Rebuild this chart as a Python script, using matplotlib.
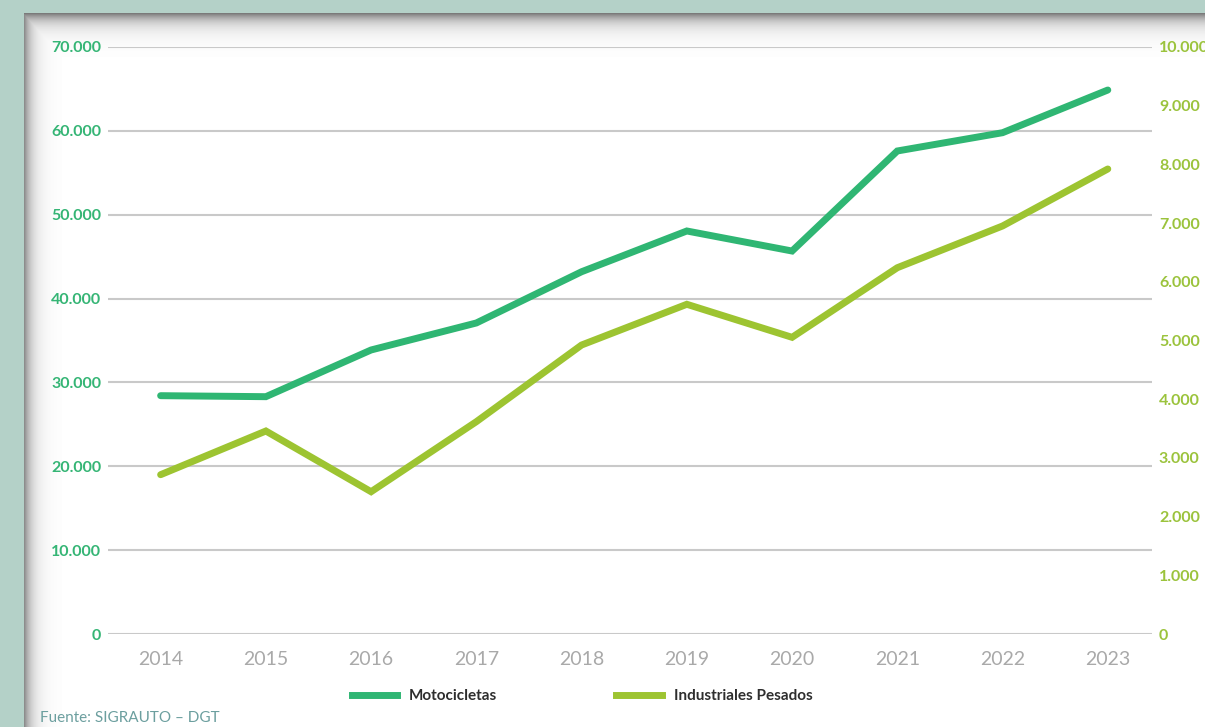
import numpy as np
import matplotlib.pyplot as plt
from matplotlib.lines import Line2D

# values
years = ['2014', '2015', '2016', '2017', '2018', '2019', '2020', '2021', '2022', '2023']
motocicletas = [28420, 28300, 33870, 37090, 43200, 48060, 45670, 57600, 59780, 64870]
industriales = [2714, 3458, 2424, 3617, 4923, 5617, 5054, 6240, 6951, 7922]

left_ticks = list(range(0, 70001, 10000))
right_ticks = list(range(0, 10001, 1000))

GREEN = '#2fb673'
LIME = '#9dc431'
W, H = 1205, 727


def fmt(v):
    return f'{v:,}'.replace(',', '.')


fig = plt.figure(figsize=(W / 100, H / 100), dpi=100)

# background: teal page with a white panel that casts an inner shadow
bg = fig.add_axes([0, 0, 1, 1])
xx, yy = np.meshgrid(np.arange(W), np.arange(H))
teal = np.array([0xb4, 0xd1, 0xc8]) / 255
img = np.ones((H, W, 3))
dx = (xx - 24).astype(float)
dy = (yy - 13).astype(float)
dark = np.maximum(0.52 * np.exp(-np.clip(dy, 0, None) / 9.0),
                  0.45 * np.exp(-np.clip(dx, 0, None) / 8.0))
dark[dark < 0.004] = 0
img = img * (1 - dark[..., None])
outside = (dx < 0) | (dy < 0)
img[outside] = teal
bg.imshow(img, extent=[0, W, H, 0], aspect='auto', interpolation='nearest')
bg.set_xlim(0, W)
bg.set_ylim(H, 0)
bg.axis('off')

ax = fig.add_axes([108 / W, 1 - 634 / H, (1152 - 108) / W, (634 - 47) / H])
ax.patch.set_alpha(0)
x = np.arange(len(years))

ax.set_ylim(0, 70000)
ax.set_yticks(left_ticks)
ax.set_yticklabels([fmt(v) for v in left_ticks], color='#35b575',
                   fontsize=11.5, fontweight='bold', family='Lato')
ax.grid(axis='y', color='#c9c9c9', linewidth=1.5)
ax.set_axisbelow(True)
ax.tick_params(axis='y', length=0, pad=5)
ax.set_xlim(-0.5, 9.42)
ax.set_xticks(x)
ax.set_xticklabels(years, color='#a9a9a9', fontsize=14, family='Lato')
ax.tick_params(axis='x', length=0, pad=12)
for s in ax.spines.values():
    s.set_visible(False)

ax.plot(x, motocicletas, color=GREEN, linewidth=5, solid_capstyle='round',
        solid_joinstyle='miter', zorder=3)

ax2 = ax.twinx()
ax2.set_ylim(0, 10000)
ax2.set_yticks(right_ticks)
ax2.set_yticklabels([fmt(v) for v in right_ticks], color='#9bc33c',
                    fontsize=11.5, fontweight='bold', family='Lato')
ax2.tick_params(axis='y', length=0, pad=5)
for s in ax2.spines.values():
    s.set_visible(False)
ax2.plot(x, industriales, color=LIME, linewidth=5, solid_capstyle='round',
         solid_joinstyle='miter', zorder=3)

handles = [Line2D([], [], color=GREEN, linewidth=5),
           Line2D([], [], color=LIME, linewidth=5)]
leg = fig.legend(handles, ['Motocicletas', 'Industriales Pesados'], ncol=2,
                 loc='center', bbox_to_anchor=(582 / W, 1 - 696 / H),
                 frameon=False, handlelength=3.0, handletextpad=0.75,
                 columnspacing=7.8,
                 prop={'family': 'Lato', 'weight': 'bold', 'size': 11})
for t in leg.get_texts():
    t.set_color('#2e2e2e')

fig.text(40 / W, 1 - 718 / H, 'Fuente: SIGRAUTO \u2013 DGT', color='#6c9f9f',
         fontsize=11, family='Lato', va='center', ha='left')

fig.savefig('out.png', dpi=100)
